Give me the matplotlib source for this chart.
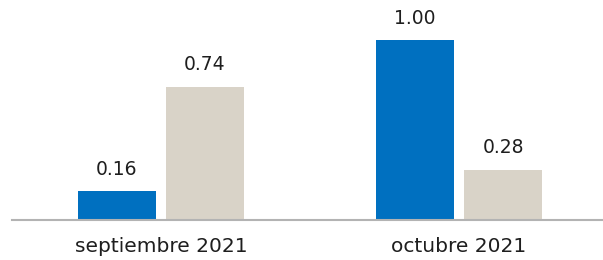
import numpy as np
import matplotlib.pyplot as plt

categories = ["septiembre 2021", "octubre 2021"]
serie_azul = [0.16, 1.00]
serie_beige = [0.74, 0.28]

AZUL = "#0070c0"
BEIGE = "#d9d3c8"
TEXTO = "#1e1e1e"

fig = plt.figure(figsize=(6.03, 2.6), dpi=100)
ax = fig.add_axes([12 / 603, 40 / 260, 591 / 603, 220 / 260])

x = np.arange(len(categories))
ancho = 0.262
desp = 0.1477

b1 = ax.bar(x - desp, serie_azul, ancho, color=AZUL)
b2 = ax.bar(x + desp, serie_beige, ancho, color=BEIGE)

for barras in (b1, b2):
    for b in barras:
        ax.annotate(f"{b.get_height():.2f}",
                    (b.get_x() + b.get_width() / 2, b.get_height()),
                    xytext=(0, 9), textcoords="offset points",
                    ha="center", va="bottom", fontsize=13.5, color=TEXTO)

ax.set_xlim(-0.5, 1.483)
ax.set_ylim(0, 220 / 180)
ax.set_xticks(x)
ax.set_xticklabels(categories, fontsize=14.5, color=TEXTO)
ax.tick_params(axis="x", length=0, pad=12.5)
ax.set_yticks([])

for s in ("top", "right", "left"):
    ax.spines[s].set_visible(False)
ax.spines["bottom"].set_color("#b3b3b3")
ax.spines["bottom"].set_linewidth(1.5)

fig.savefig("out.png", dpi=100)
